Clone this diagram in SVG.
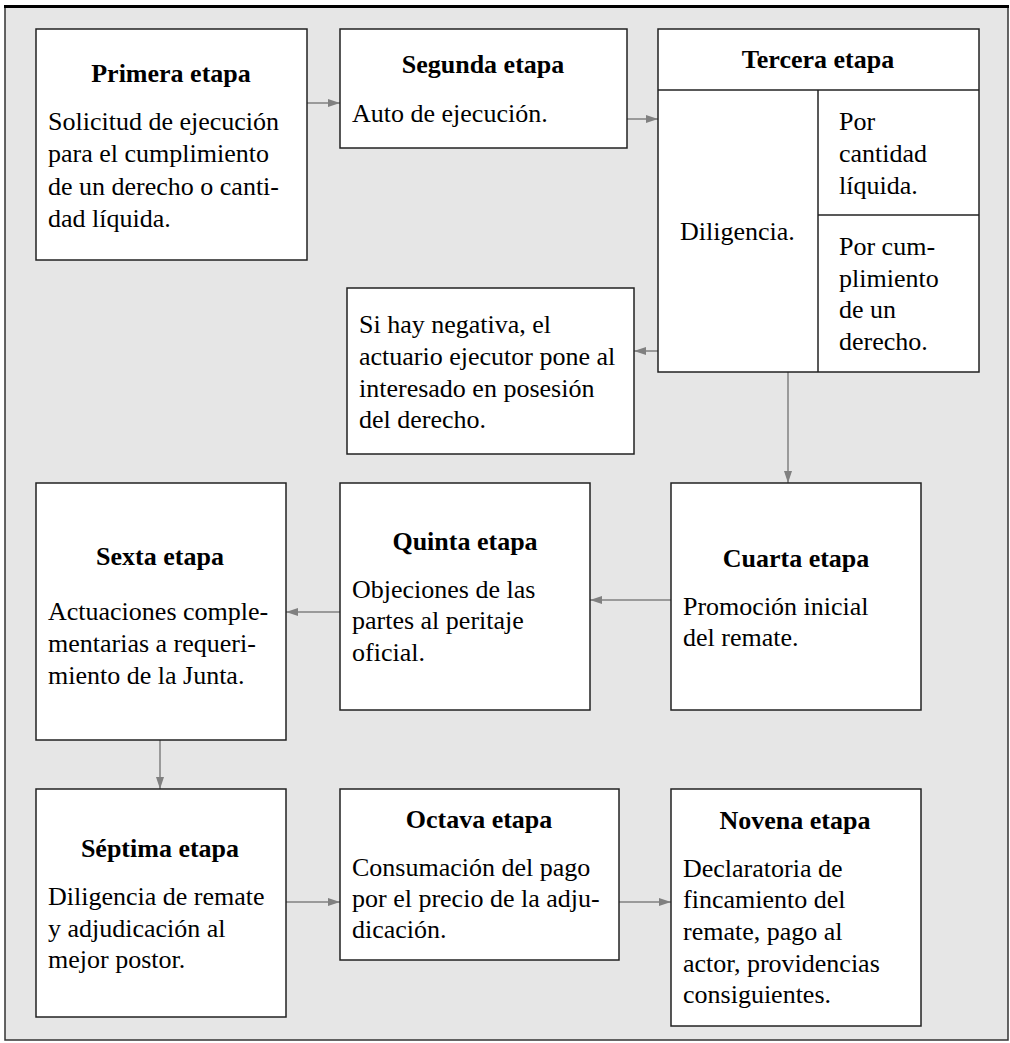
<svg xmlns="http://www.w3.org/2000/svg" width="1010" height="1043" viewBox="0 0 1010 1043">
<defs>
<marker id="ah" markerWidth="12" markerHeight="8" refX="12" refY="4" orient="auto" markerUnits="userSpaceOnUse">
<path d="M0,0 L12,4 L0,8 Z" fill="#808080"/>
</marker>
<style>
.box{fill:#fff;stroke:#222;stroke-width:1.5}
.div{stroke:#222;stroke-width:1.5;fill:none}
text{font-family:'Times New Roman','Liberation Serif',Tinos,serif}
.t{font-size:26px;font-weight:bold;fill:#000;text-anchor:middle}
.b{font-size:26px;fill:#000}
.c{stroke:#808080;stroke-width:1.5;fill:none;marker-end:url(#ah)}
</style>
</defs>
<rect x="0" y="0" width="1010" height="1043" fill="#fff"/>
<rect x="5" y="6" width="1003" height="1034" fill="#e6e6e6" stroke="#333" stroke-width="1.5"/>
<line x1="4" y1="6.5" x2="1009" y2="6.5" stroke="#000" stroke-width="3"/>

<g id="connectors">
<line class="c" x1="307" y1="103" x2="340" y2="103"/>
<line class="c" x1="627" y1="119" x2="658" y2="119"/>
<line class="c" x1="658" y1="351" x2="634" y2="351"/>
<line class="c" x1="788" y1="372" x2="788" y2="483"/>
<line class="c" x1="671" y1="600" x2="590" y2="600"/>
<line class="c" x1="340" y1="612" x2="286" y2="612"/>
<line class="c" x1="160" y1="740" x2="160" y2="789"/>
<line class="c" x1="286" y1="902" x2="340" y2="902"/>
<line class="c" x1="619" y1="902" x2="671" y2="902"/>
</g>

<g id="nodes">
<g id="primera">
<rect class="box" x="36" y="29" width="271" height="231"/>
<text class="t" x="171" y="82">Primera etapa</text>
<text class="b" x="48" y="130">Solicitud de ejecución</text>
<text class="b" x="48" y="162">para el cumplimiento</text>
<text class="b" x="48" y="195">de un derecho o canti-</text>
<text class="b" x="48" y="227">dad líquida.</text>
</g>

<g id="segunda">
<rect class="box" x="340" y="29" width="287" height="119"/>
<text class="t" x="483" y="73">Segunda etapa</text>
<text class="b" x="352" y="122">Auto de ejecución.</text>
</g>

<g id="tercera">
<rect class="box" x="658" y="29" width="321" height="343"/>
<line class="div" x1="658" y1="90" x2="979" y2="90"/>
<line class="div" x1="818" y1="90" x2="818" y2="372"/>
<line class="div" x1="818" y1="215" x2="979" y2="215"/>
<text class="t" x="818" y="68">Tercera etapa</text>
<text class="b" x="680" y="240">Diligencia.</text>
<text class="b" x="839" y="130">Por</text>
<text class="b" x="839" y="162">cantidad</text>
<text class="b" x="839" y="194">líquida.</text>
<text class="b" x="839" y="255">Por cum-</text>
<text class="b" x="839" y="287">plimiento</text>
<text class="b" x="839" y="318">de un</text>
<text class="b" x="839" y="350">derecho.</text>
</g>

<g id="negativa">
<rect class="box" x="347" y="288" width="287" height="166"/>
<text class="b" x="359" y="333">Si hay negativa, el</text>
<text class="b" x="359" y="365">actuario ejecutor pone al</text>
<text class="b" x="359" y="397">interesado en posesión</text>
<text class="b" x="359" y="428">del derecho.</text>
</g>

<g id="cuarta">
<rect class="box" x="671" y="483" width="250" height="227"/>
<text class="t" x="796" y="567">Cuarta etapa</text>
<text class="b" x="683" y="615">Promoción inicial</text>
<text class="b" x="683" y="646">del remate.</text>
</g>

<g id="quinta">
<rect class="box" x="340" y="483" width="250" height="227"/>
<text class="t" x="465" y="550">Quinta etapa</text>
<text class="b" x="352" y="598">Objeciones de las</text>
<text class="b" x="352" y="629">partes al peritaje</text>
<text class="b" x="352" y="661">oficial.</text>
</g>

<g id="sexta">
<rect class="box" x="36" y="483" width="250" height="257"/>
<text class="t" x="160" y="565">Sexta etapa</text>
<text class="b" x="48" y="620">Actuaciones comple-</text>
<text class="b" x="48" y="652">mentarias a requeri-</text>
<text class="b" x="48" y="684">miento de la Junta.</text>
</g>

<g id="septima">
<rect class="box" x="36" y="789" width="250" height="228"/>
<text class="t" x="160" y="857">Séptima etapa</text>
<text class="b" x="48" y="905">Diligencia de remate</text>
<text class="b" x="48" y="937">y adjudicación al</text>
<text class="b" x="48" y="968">mejor postor.</text>
</g>

<g id="octava">
<rect class="box" x="340" y="789" width="279" height="171"/>
<text class="t" x="479" y="828">Octava etapa</text>
<text class="b" x="352" y="876">Consumación del pago</text>
<text class="b" x="352" y="907">por el precio de la adju-</text>
<text class="b" x="352" y="938">dicación.</text>
</g>

<g id="novena">
<rect class="box" x="671" y="789" width="250" height="237"/>
<text class="t" x="795" y="829">Novena etapa</text>
<text class="b" x="683" y="877">Declaratoria de</text>
<text class="b" x="683" y="908">fincamiento del</text>
<text class="b" x="683" y="940">remate, pago al</text>
<text class="b" x="683" y="972">actor, providencias</text>
<text class="b" x="683" y="1003">consiguientes.</text>
</g>
</g>
</svg>
